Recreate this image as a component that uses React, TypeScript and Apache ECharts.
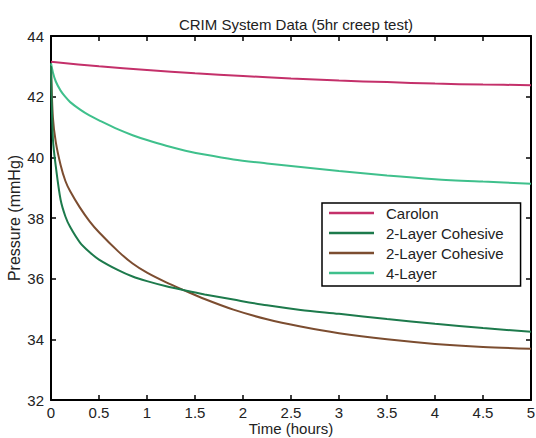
import React, { useEffect, useRef } from "react";
import * as echarts from "echarts";

const titleText = "CRIM System Data (5hr creep test)";
const xName = "Time (hours)";
const yName = "Pressure (mmHg)";

const timeGrid = [0, 0.02, 0.05, 0.1, 0.15, 0.2, 0.3, 0.4, 0.5, 0.7, 0.85, 1.0, 1.2, 1.4, 1.6, 1.9, 2.25, 2.6, 3.0, 3.5, 4.0, 4.5, 5.0];
const twoLayerA = [43.0, 40.6, 39.7, 38.6, 38.05, 37.7, 37.2, 36.88, 36.63, 36.28, 36.07, 35.92, 35.75, 35.61, 35.48, 35.31, 35.12, 34.97, 34.84, 34.67, 34.51, 34.37, 34.25];
const twoLayerB = [43.0, 41.3, 40.5, 39.75, 39.22, 38.88, 38.35, 37.9, 37.53, 36.9, 36.5, 36.2, 35.88, 35.6, 35.33, 34.98, 34.66, 34.42, 34.2, 34.0, 33.85, 33.75, 33.69];
const fourLayer = [43.1, 42.8, 42.5, 42.2, 41.99, 41.82, 41.58, 41.38, 41.22, 40.92, 40.73, 40.57, 40.38, 40.22, 40.09, 39.93, 39.8, 39.68, 39.55, 39.4, 39.28, 39.2, 39.13];
const carolonTime = [0, 0.5, 1, 1.5, 2, 2.5, 3, 3.5, 4, 4.5, 5];
const carolon = [43.15, 43.0, 42.88, 42.77, 42.68, 42.6, 42.53, 42.48, 42.43, 42.4, 42.38];

const seriesNames = ["Carolon", "2-Layer Cohesive", "2-Layer Cohesive ", "4-Layer"];
const seriesColors = ["#c4306a", "#1d7a4c", "#7c4d30", "#3fc08c"];

const FONT = "Liberation Sans, Arial, sans-serif";

function pairs(xs: number[], ys: number[]) {
  return xs.map((x, i) => [x, ys[i]]);
}

export default function App() {
  const ref = useRef<HTMLDivElement>(null);
  useEffect(() => {
    if (!ref.current) return;
    const chart = echarts.init(ref.current, undefined, { renderer: "svg" });
    const seriesData = [
      pairs(carolonTime, carolon),
      pairs(timeGrid, twoLayerA),
      pairs(timeGrid, twoLayerB),
      pairs(timeGrid, fourLayer),
    ];
    const tickStyle = { inside: true, length: 5, lineStyle: { color: "#000", width: 1.5 } };
    chart.setOption({
      animation: false,
      backgroundColor: "#fff",
      title: {
        text: titleText,
        left: 291,
        top: 12,
        textAlign: "center",
        textStyle: { fontFamily: FONT, fontSize: 15, fontWeight: "normal", color: "#222" },
      },
      grid: { left: 51, right: 5, top: 36, bottom: 38, outerBoundsMode: "none", containLabel: false },
      legend: {
        orient: "vertical",
        left: 322,
        top: 203,
        data: seriesNames.map((n, i) => ({ name: n, icon: "rect", itemStyle: { color: seriesColors[i] } })),
        itemWidth: 45,
        itemHeight: 2.5,
        itemGap: 4,
        padding: [2, 17, 5, 7],
        borderColor: "#000",
        borderWidth: 1.5,
        backgroundColor: "#fff",
        textStyle: { fontFamily: FONT, fontSize: 15, color: "#222", lineHeight: 16, padding: [0, 0, 0, 7] },
        formatter: (n: string) => n.trim(),
      },
      xAxis: [
        {
          type: "value",
          min: 0,
          max: 5,
          interval: 0.5,
          name: xName,
          nameLocation: "middle",
          nameGap: 21,
          nameMoveOverlap: false,
          nameTextStyle: { fontFamily: FONT, fontSize: 15, color: "#222", lineHeight: 15 },
          axisLine: { onZero: false, lineStyle: { color: "#000", width: 2 } },
          axisTick: tickStyle,
          axisLabel: { fontFamily: FONT, fontSize: 15, color: "#222", margin: 5, lineHeight: 15 },
          splitLine: { show: false },
        },
        {
          type: "value",
          position: "top",
          min: 0,
          max: 5,
          interval: 0.5,
          axisLine: { onZero: false, lineStyle: { color: "#000", width: 2 } },
          axisTick: tickStyle,
          axisLabel: { show: false },
          splitLine: { show: false },
        },
      ],
      yAxis: [
        {
          type: "value",
          min: 32,
          max: 44,
          interval: 2,
          name: yName,
          nameLocation: "middle",
          nameGap: 29,
          nameMoveOverlap: false,
          nameTextStyle: { fontFamily: FONT, fontSize: 16, color: "#222" },
          axisLine: { show: true, onZero: false, lineStyle: { color: "#000", width: 2 } },
          axisTick: tickStyle,
          axisLabel: { fontFamily: FONT, fontSize: 15, color: "#222", margin: 7 },
          splitLine: { show: false },
        },
        {
          type: "value",
          position: "right",
          min: 32,
          max: 44,
          interval: 2,
          axisLine: { show: true, onZero: false, lineStyle: { color: "#000", width: 2 } },
          axisTick: tickStyle,
          axisLabel: { show: false },
          splitLine: { show: false },
        },
      ],
      series: seriesNames.map((n, i) => ({
        name: n,
        type: "line",
        data: seriesData[i],
        showSymbol: false,
        smooth: 0.3,
        lineStyle: { color: seriesColors[i], width: 2 },
        itemStyle: { color: seriesColors[i] },
        z: 4 - i,
      })),
    });
    return () => chart.dispose();
  }, []);
  return (
    <div
      ref={ref}
      style={{ position: "fixed", left: 0, top: 0, width: 536, height: 438, background: "#fff" }}
    />
  );
}
